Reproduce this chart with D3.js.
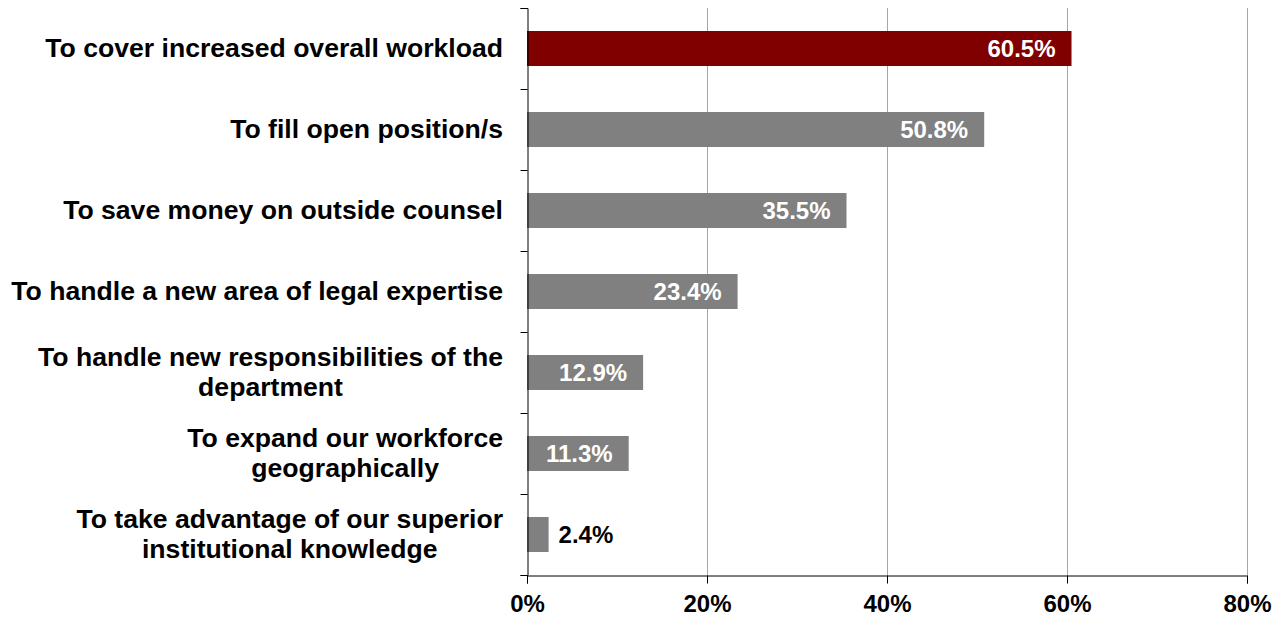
<!DOCTYPE html>
<html>
<head>
<meta charset="utf-8">
<title>Reasons for hiring</title>
<script src="https://cdn.jsdelivr.net/npm/d3@7"></script>
<style>
body { margin: 0; background: #fff; }
text { font-family: Arial, 'Liberation Sans', sans-serif; font-weight: bold; }
</style>
</head>
<body>
<svg id="chart" width="1286" height="617"></svg>
<script>

// categories, one entry per line of the label
var categories = [
	['To cover increased overall workload'],
	['To fill open position/s'],
	['To save money on outside counsel'],
	['To handle a new area of legal expertise'],
	['To handle new responsibilities of the', 'department'],
	['To expand our workforce', 'geographically'],
	['To take advantage of our superior', 'institutional knowledge']
];
var values = [60.5, 50.8, 35.5, 23.4, 12.9, 11.3, 2.4];
var xTicks = [0, 20, 40, 60, 80];

var svg = d3.select('#chart');
var mLeft = 527, mRight = 1247, mTop = 8, mBottom = 575;
var catFont = '26.6px';
var valFont = '24px';

var x = d3.scaleLinear().domain([0, 80]).range([mLeft, mRight]);
var y = d3.scaleBand().domain(d3.range(values.length)).range([mTop, mBottom]);
var barH = 35;

// gridlines
svg.selectAll('.grid')
	.data(xTicks.slice(1))
	.enter()
	.append('line')
	.attr('x1', function(d) { return x(d) + 0.5; })
	.attr('x2', function(d) { return x(d) + 0.5; })
	.attr('y1', mTop)
	.attr('y2', mBottom)
	.attr('stroke', '#a6a6a6')
	.attr('stroke-width', 1);

// bars
svg.selectAll('.bar')
	.data(values)
	.enter()
	.append('rect')
	.attr('x', x(0))
	.attr('y', function(d, i) { return y(i) + y.bandwidth() / 2 - barH / 2; })
	.attr('width', function(d) { return x(d) - x(0); })
	.attr('height', barH)
	.attr('fill', function(d, i) { return i == 0 ? '#800000' : '#808080'; });

// value labels
svg.selectAll('.val')
	.data(values)
	.enter()
	.append('text')
	.text(function(d) { return d.toFixed(1) + '%'; })
	.attr('x', function(d) { return d < 5 ? x(d) + 10 : x(d) - 16; })
	.attr('y', function(d, i) { return y(i) + y.bandwidth() / 2 + 8.5; })
	.attr('text-anchor', function(d) { return d < 5 ? 'start' : 'end'; })
	.attr('fill', function(d) { return d < 5 ? '#000' : '#fff'; })
	.style('font-size', valFont);

// x axis
var xAxis = svg.append('g')
	.attr('transform', 'translate(0,' + (mBottom + 0.5) + ')')
	.call(d3.axisBottom(x).tickValues(xTicks).tickSize(8).tickPadding(11).tickFormat(function(d) { return d + '%'; }));
xAxis.select('.domain').attr('stroke', '#000');
xAxis.selectAll('.tick line').attr('stroke', '#000');
xAxis.selectAll('text').style('font-size', valFont).attr('fill', '#000')
	.style('font-family', "Arial, 'Liberation Sans', sans-serif").style('font-weight', 'bold');

// y axis: ticks at band boundaries
var yb = d3.scaleLinear().domain([0, values.length]).range([mTop, mBottom]);
var yAxis = svg.append('g')
	.attr('transform', 'translate(' + (mLeft + 0.5) + ',0)')
	.call(d3.axisLeft(yb).ticks(values.length).tickSize(7).tickFormat(''));
yAxis.select('.domain').attr('stroke', '#000');
yAxis.selectAll('.tick line').attr('stroke', '#000');

// category labels, centered lines, block right-aligned
categories.forEach(function(lines, i) {
	var cy = y(i) + y.bandwidth() / 2;
	var lh = 30;
	var t = svg.append('text')
		.attr('text-anchor', 'middle')
		.style('font-size', catFont)
		.attr('fill', '#000');
	lines.forEach(function(s, j) {
		t.append('tspan')
			.attr('x', 0)
			.attr('y', cy + 8.5 + (j - (lines.length - 1) / 2) * lh)
			.text(s);
	});
	var w = t.node().getBBox().width;
	t.attr('transform', 'translate(' + (503 - w / 2) + ',0)');
});

</script>
</body>
</html>
